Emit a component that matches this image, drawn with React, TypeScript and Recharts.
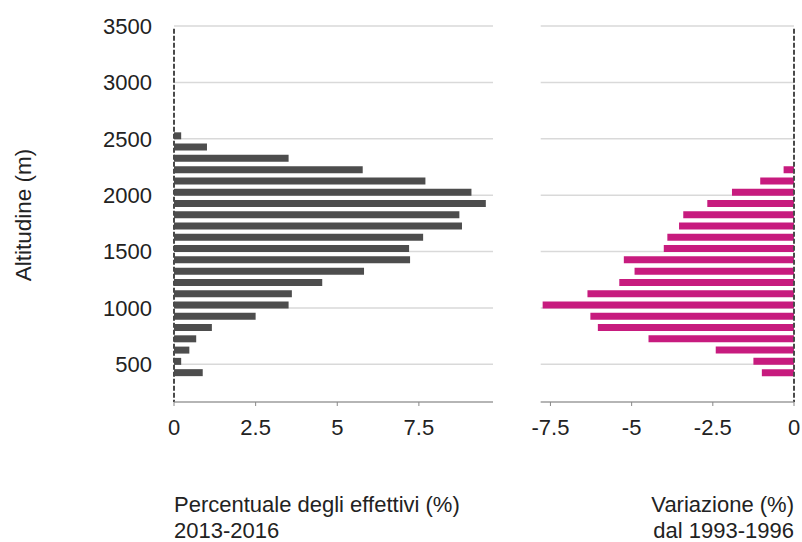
import { BarChart, Bar, XAxis, YAxis, CartesianGrid, ReferenceLine } from "recharts";

// altitude bands (centre of each 100 m band)
const altitudes = [225, 325, 425, 525, 625, 725, 825, 925, 1025, 1125, 1225, 1325, 1425, 1525, 1625, 1725, 1825, 1925, 2025, 2125, 2225, 2325, 2425, 2525];
// Percentuale degli effettivi (%) 2013-2016
const share = [0, 0, 0.88, 0.22, 0.47, 0.68, 1.16, 2.5, 3.51, 3.61, 4.54, 5.82, 7.23, 7.2, 7.63, 8.82, 8.74, 9.55, 9.11, 7.7, 5.78, 3.51, 1.01, 0.22];
// Variazione (%) dal 1993-1996
const change = [0, 0, -0.99, -1.25, -2.41, -4.48, -6.04, -6.27, -7.74, -6.36, -5.38, -4.91, -5.24, -4.01, -3.9, -3.54, -3.41, -2.67, -1.91, -1.04, -0.32, 0, 0, 0];

const altTicks = [500, 1000, 1500, 2000, 2500, 3000, 3500];
const shareTicks = [0, 2.5, 5, 7.5];
const changeTicks = [-7.5, -5, -2.5, 0];

const rows = altitudes.map((alt, i) => ({ alt, share: share[i], change: change[i] }));

const FONT = "'Liberation Sans', Arial, sans-serif";
const TXT = "#222";
const ALT_DOMAIN: [number, number] = [166, 3500];

export default function App() {
  const tick = { fontSize: 22, fill: TXT };
  return (
    <div style={{ position: "absolute", left: 0, top: 0, width: 802, height: 542, fontFamily: FONT, background: "#fff" }}>
      {/* left panel */}
      <div style={{ position: "absolute", left: 0, top: 0 }}>
        <BarChart width={500} height={542} data={rows} layout="vertical" margin={{ top: 26, right: 7, left: 0, bottom: 80 }}>
          <CartesianGrid horizontal vertical={false} stroke="#d9d9d9" strokeWidth={1.5} />
          <XAxis
            type="number"
            dataKey="share"
            domain={[0, 9.77]}
            allowDataOverflow
            ticks={shareTicks}
            height={60}
            stroke="#888"
            tickSize={4}
            tickMargin={13}
            tick={tick}
          />
          <YAxis
            type="number"
            dataKey="alt"
            domain={ALT_DOMAIN}
            allowDataOverflow
            reversed
            ticks={altTicks}
            width={174}
            axisLine={false}
            tickLine={false}
            tickSize={0}
            tickMargin={22}
            tick={tick}
          />
          <Bar dataKey="share" fill="#4d4d4d" barSize={7} isAnimationActive={false} />
          <ReferenceLine segment={[{ x: 0, y: 3475 }, { x: 0, y: 166 }]} stroke="#4a4a4a" strokeWidth={2} strokeDasharray="5 2" />
        </BarChart>
      </div>

      {/* right panel */}
      <div style={{ position: "absolute", left: 520, top: 0 }}>
        <BarChart width={282} height={542} data={rows} layout="vertical" margin={{ top: 26, right: 8, left: 20.7, bottom: 80 }}>
          <CartesianGrid horizontal vertical={false} stroke="#d9d9d9" strokeWidth={1.5} />
          <XAxis
            type="number"
            dataKey="change"
            domain={[-7.8, 0]}
            allowDataOverflow
            ticks={changeTicks}
            height={60}
            stroke="#888"
            tickSize={4}
            tickMargin={13}
            tick={tick}
          />
          <YAxis type="number" dataKey="alt" domain={ALT_DOMAIN} allowDataOverflow reversed ticks={altTicks} hide />
          <Bar dataKey="change" fill="#c71b7e" barSize={7} isAnimationActive={false} />
          <ReferenceLine segment={[{ x: 0, y: 3475 }, { x: 0, y: 166 }]} stroke="#4a4a4a" strokeWidth={2} strokeDasharray="5 2" />
        </BarChart>
      </div>

      <svg width={802} height={542} style={{ position: "absolute", left: 0, top: 0, pointerEvents: "none" }}>
        <text x={31} y={215} transform="rotate(-90, 31, 215)" textAnchor="middle" fontSize={22.5} fill={TXT}>
          Altitudine (m)
        </text>
        <text x={174} y={512} fontSize={22} fill={TXT}>Percentuale degli effettivi (%)</text>
        <text x={174} y={538} fontSize={22} fill={TXT}>2013-2016</text>
        <text x={794} y={512} textAnchor="end" fontSize={22} fill={TXT}>Variazione (%)</text>
        <text x={794} y={538} textAnchor="end" fontSize={22} fill={TXT}>dal 1993-1996</text>
      </svg>
    </div>
  );
}
